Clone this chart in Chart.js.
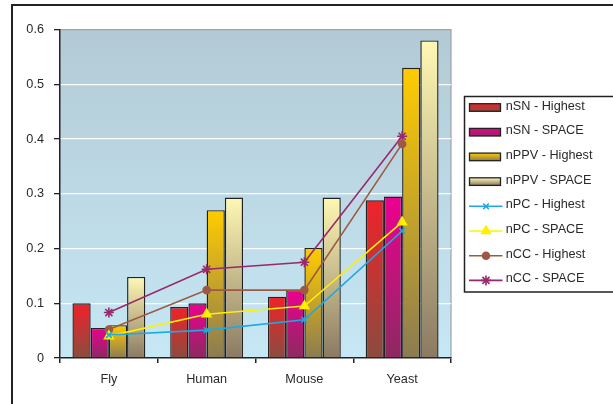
<!DOCTYPE html>
<html>
<head>
<meta charset="utf-8">
<script src="https://cdn.jsdelivr.net/npm/chart.js@4/dist/chart.umd.min.js"></script>
<style>
  html, body { margin: 0; padding: 0; background: #ffffff; overflow: hidden; }
  #wrap { width: 613px; height: 404px; position: relative; }
</style>
</head>
<body>
<div id="wrap"><canvas id="c" width="613" height="404"></canvas></div>
<script>
// Categories and series values
const categories = ['Fly', 'Human', 'Mouse', 'Yeast'];
const nsnHighest  = [0.100, 0.093, 0.112, 0.288];
const nsnSpace    = [0.055, 0.100, 0.124, 0.295];
const nppvHighest = [0.060, 0.270, 0.201, 0.530];
const nppvSpace   = [0.148, 0.293, 0.293, 0.580];
const npcHighest  = [0.042, 0.051, 0.070, 0.232];
const npcSpace    = [0.040, 0.080, 0.095, 0.248];
const nccHighest  = [0.052, 0.124, 0.124, 0.391];
const nccSpace    = [0.083, 0.162, 0.175, 0.405];
const yTicks = [0, 0.1, 0.2, 0.3, 0.4, 0.5, 0.6];

const FONT = '"Liberation Sans", Arial, Helvetica, sans-serif';
const FONT_SIZE = 12.7;
const INK = '#2a2a2a';

// vertical gradient running from the bar's top (bright) to its base (dark)
function barFill(top, bottom) {
  return function (ctx) {
    const chart = ctx.chart;
    const y = chart.scales && chart.scales.y;
    if (ctx.type !== 'data' || !chart.chartArea || !y) return top;
    const y1 = y.getPixelForValue(ctx.raw);
    const y0 = y.getPixelForValue(0);
    const g = chart.ctx.createLinearGradient(0, y1, 0, y0);
    g.addColorStop(0, top);
    g.addColorStop(1, bottom);
    return g;
  };
}

const barStyles = [
  { label: 'nSN - Highest',  data: nsnHighest,  top: '#f0222a', bottom: '#8a4c3f' },
  { label: 'nSN - SPACE',    data: nsnSpace,    top: '#ec0090', bottom: '#8c2a60' },
  { label: 'nPPV - Highest', data: nppvHighest, top: '#ffcc00', bottom: '#8b7b52' },
  { label: 'nPPV - SPACE',   data: nppvSpace,   top: '#fff8b4', bottom: '#8b7a62' }
];
const lineStyles = [
  { label: 'nPC - Highest', data: npcHighest, color: '#1ea9e2', point: 'crossRot', r: 4 },
  { label: 'nPC - SPACE',   data: npcSpace,   color: '#fff000', point: 'triangle', r: 5 },
  { label: 'nCC - Highest', data: nccHighest, color: '#9c5a45', point: 'circle',   r: 3.5 },
  { label: 'nCC - SPACE',   data: nccSpace,   color: '#972a6c', point: 'star',     r: 5 }
];

const datasets = [];
barStyles.forEach(s => datasets.push({
  type: 'bar', label: s.label, data: s.data, order: 2,
  backgroundColor: barFill(s.top, s.bottom),
  borderColor: '#222', borderWidth: 1.4,
  categoryPercentage: 0.745, barPercentage: 1.0,
  _top: s.top, _bottom: s.bottom
}));
lineStyles.forEach(s => datasets.push({
  type: 'line', label: s.label, data: s.data, order: 1,
  borderColor: s.color, backgroundColor: s.color, borderWidth: 1.6,
  pointStyle: s.point, pointRadius: s.r, pointBorderWidth: 1.6,
  pointBackgroundColor: s.color, pointBorderColor: s.color, tension: 0
}));

// plot background, outer frame and the legend box
const decor = {
  id: 'decor',
  beforeDraw(chart) {
    const { ctx, chartArea: a } = chart;
    ctx.save();
    const g = ctx.createLinearGradient(0, a.top, 0, a.bottom);
    g.addColorStop(0, '#b3cad6');
    g.addColorStop(1, '#c6e7f4');
    ctx.fillStyle = g;
    ctx.fillRect(a.left, a.top, a.right - a.left, a.bottom - a.top);
    ctx.strokeStyle = '#9aa3a8';
    ctx.lineWidth = 1.2;
    ctx.beginPath();
    ctx.moveTo(a.left, a.top);
    ctx.lineTo(a.right, a.top);
    ctx.lineTo(a.right, a.bottom);
    ctx.stroke();
    ctx.restore();
  },
  afterDraw(chart) {
    const ctx = chart.ctx;
    ctx.save();
    // outer frame
    ctx.strokeStyle = '#222';
    ctx.lineWidth = 2;
    ctx.beginPath();
    ctx.moveTo(12, 404);
    ctx.lineTo(12, 5);
    ctx.lineTo(613, 5);
    ctx.stroke();

    // legend box, running off the right edge
    ctx.lineWidth = 1.5;
    ctx.beginPath();
    ctx.moveTo(640, 96.5);
    ctx.lineTo(464.5, 96.5);
    ctx.lineTo(464.5, 292);
    ctx.lineTo(640, 292);
    ctx.stroke();
    ctx.font = FONT_SIZE + 'px ' + FONT;
    ctx.textBaseline = 'middle';
    ctx.textAlign = 'left';
    chart.data.datasets.forEach((ds, i) => {
      const cy = 106 + i * 24.7;
      const sy = cy + 1.5;
      if (ds.type === 'bar') {
        const g = ctx.createLinearGradient(0, sy - 3.8, 0, sy + 3.8);
        g.addColorStop(0, ds._top);
        g.addColorStop(1, ds._bottom);
        ctx.fillStyle = g;
        ctx.fillRect(469.5, sy - 3.8, 31, 7.6);
        ctx.strokeStyle = '#222';
        ctx.lineWidth = 1.3;
        ctx.strokeRect(469.5, sy - 3.8, 31, 7.6);
      } else {
        ctx.strokeStyle = ds.borderColor;
        ctx.lineWidth = 1.6;
        ctx.beginPath();
        ctx.moveTo(469, sy);
        ctx.lineTo(502.5, sy);
        ctx.stroke();
        ctx.fillStyle = ds.borderColor;
        Chart.helpers.drawPoint(ctx, {
          pointStyle: ds.pointStyle, radius: ds.pointRadius,
          rotation: 0, borderWidth: 1.6
        }, 486, sy);
      }
      ctx.fillStyle = INK;
      ctx.fillText(ds.label, 505.7, cy);
    });
    ctx.restore();
  }
};

new Chart(document.getElementById('c'), {
  type: 'bar',
  data: { labels: categories, datasets },
  plugins: [decor],
  options: {
    responsive: false,
    devicePixelRatio: 1,
    animation: false,
    events: [],
    layout: { padding: { left: 0, right: 162, top: 29.5, bottom: 0 } },
    plugins: { legend: { display: false }, tooltip: { enabled: false } },
    scales: {
      x: {
        afterFit(scale) { scale.height = 46; },
        grid: {
          offset: true, drawOnChartArea: false, drawTicks: true,
          tickLength: 5, tickColor: '#222', lineWidth: 1.5, color: '#222'
        },
        border: { display: true, color: '#222', width: 1.5 },
        ticks: { color: INK, font: { family: FONT, size: FONT_SIZE }, padding: 9 }
      },
      y: {
        min: 0, max: 0.6,
        afterFit(scale) { scale.width = 60; },
        afterBuildTicks(scale) { scale.ticks = yTicks.map(v => ({ value: v })); },
        grid: {
          color: c => (c.tick && c.tick.value === 0.6) ? '#9aa3a8' : '#ffffff',
          lineWidth: 1.3,
          tickLength: 6, tickColor: '#222'
        },
        border: { display: true, color: '#222', width: 1.5 },
        ticks: {
          color: INK, font: { family: FONT, size: FONT_SIZE }, padding: 10,
          callback: v => v === 0 ? '0' : v.toFixed(1)
        }
      }
    }
  }
});
</script>
</body>
</html>
